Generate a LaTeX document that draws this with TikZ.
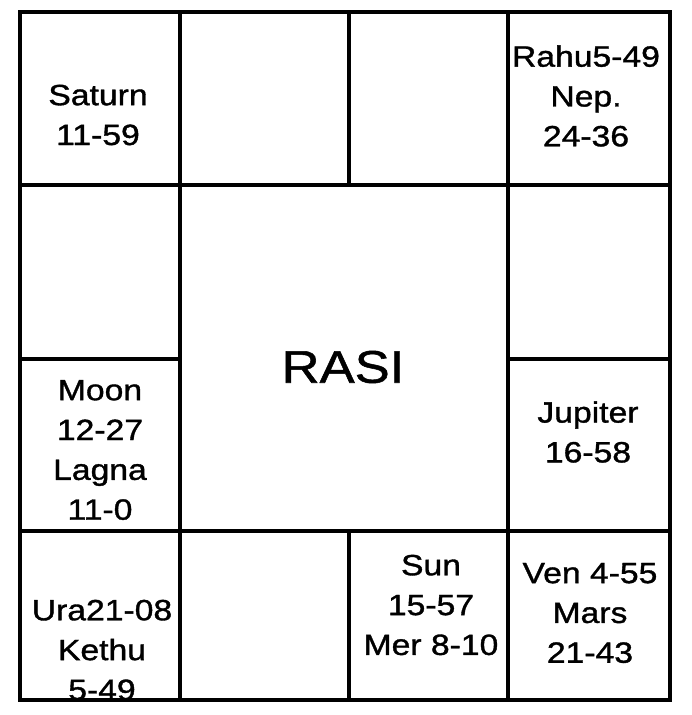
\documentclass[tikz,border=0pt]{standalone}
\usepackage{fontspec}
\setmainfont{Liberation Sans}[FakeStretch=1.15,FakeBold=1.2]

\tikzset{
    planet/.style={align=center, inner sep=0pt, font=\fontsize{25}{34}\selectfont},
    title/.style={inner sep=0pt, font=\fontsize{39}{44}\selectfont},
    grid line/.style={line width=2.8pt},
}

\begin{document}
\begin{tikzpicture}[x=0.03cm,y=-0.03cm]
    \useasboundingbox (0,0) rectangle (692,715);

    % Coordinates for the corners of the chart
    \coordinate (TL) at (20,12);
    \coordinate (TR) at (670,12);
    \coordinate (BR) at (670,700);
    \coordinate (BL) at (20,700);

    % Outer frame
    \draw[line width=3.4pt] (TL) rectangle (BR);

    % Horizontal lines
    \draw[grid line] (20,185) -- (670,185);
    \draw[grid line] (20,531) -- (670,531);
    \draw[grid line] (20,359) -- (180,359);
    \draw[grid line] (508,359) -- (670,359);

    % Vertical lines
    \draw[grid line] (180,12) -- (180,700);
    \draw[grid line] (508,12) -- (508,700);
    \draw[grid line] (349,12) -- (349,185);
    \draw[grid line] (349,531) -- (349,700);

    % Houses
    \node[title] (rasi) at (343,367) {RASI};
    \node[planet] (saturn) at (98,115) {Saturn\\11-59};
    \node[planet] (rahu) at (586,96) {Rahu5-49\\Nep.\\24-36};
    \node[planet] (moon) at (100,450) {Moon\\12-27\\Lagna\\11-0};
    \node[planet] (jupiter) at (588,432) {Jupiter\\16-58};
    \node[planet] (ura) at (102,650) {Ura21-08\\Kethu\\5-49};
    \node[planet] (sun) at (431,605) {Sun\\15-57\\Mer 8-10};
    \node[planet] (ven) at (590,613) {Ven 4-55\\Mars\\21-43};
\end{tikzpicture}
\end{document}
